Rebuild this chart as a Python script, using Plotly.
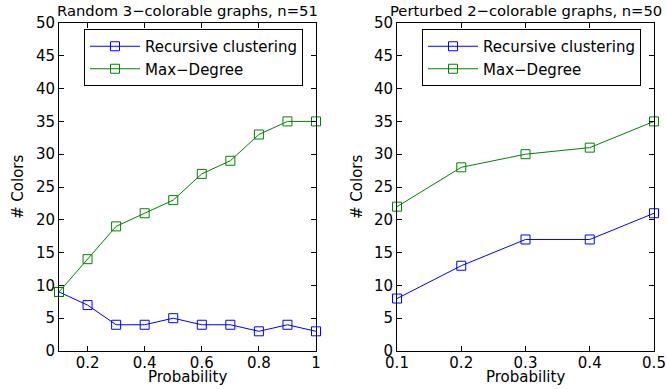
import plotly.graph_objects as go

# Left panel data
x_left = [0.1, 0.2, 0.3, 0.4, 0.5, 0.6, 0.7, 0.8, 0.9, 1.0]
rec_left = [9, 7, 4, 4, 5, 4, 4, 3, 4, 3]
maxdeg_left = [9, 14, 19, 21, 23, 27, 29, 33, 35, 35]

# Right panel data
x_right = [0.1, 0.2, 0.3, 0.4, 0.5]
rec_right = [8, 13, 17, 17, 21]
maxdeg_right = [22, 28, 30, 31, 35]

title_left = "Random 3\u2212colorable graphs, n=51"
title_right = "Perturbed 2\u2212colorable graphs, n=50"
names = ["Recursive clustering", "Max\u2212Degree"]
BLUE = "#0000ff"
GREEN = "#008000"
FONT = "DejaVu Sans, Liberation Sans, sans-serif"

W, H = 667, 389
def px(x): return x / W
def py(y): return (H - y) / H

fig = go.Figure()
for xs, ys, col, nm, xa, ya, lg in [
    (x_left, rec_left, BLUE, names[0], "x", "y", "legend"),
    (x_left, maxdeg_left, GREEN, names[1], "x", "y", "legend"),
    (x_right, rec_right, BLUE, names[0], "x2", "y2", "legend2"),
    (x_right, maxdeg_right, GREEN, names[1], "x2", "y2", "legend2"),
]:
    fig.add_trace(go.Scatter(
        x=xs, y=ys, mode="lines+markers", name=nm,
        line=dict(color=col, width=1),
        marker=dict(symbol="square-open", size=9, color=col, line=dict(width=1, color=col)),
        xaxis=xa, yaxis=ya, legend=lg, cliponaxis=False))

axis_common = dict(showline=True, linecolor="black", linewidth=1, mirror="ticks",
                   ticks="inside", ticklen=5, tickcolor="black", showgrid=False,
                   zeroline=False, automargin=False,
                   tickfont=dict(family=FONT, size=15, color="black"))

fig.update_layout(
    width=W, height=H, margin=dict(l=0, r=0, t=0, b=0),
    paper_bgcolor="white", plot_bgcolor="white",
    font=dict(family=FONT, color="black"),
    xaxis=dict(domain=[px(59), px(316)], range=[0.1, 1.0], tickvals=[0.2, 0.4, 0.6, 0.8, 1.0],
               ticktext=["0.2", "0.4", "0.6", "0.8", "1"], anchor="y",
               ticklabelstandoff=-2, **axis_common),
    yaxis=dict(domain=[py(351), py(23)], range=[0, 50], tickvals=list(range(0, 51, 5)),
               anchor="x", **axis_common),
    xaxis2=dict(domain=[px(397), px(654)], range=[0.1, 0.5], tickvals=[0.1, 0.2, 0.3, 0.4, 0.5],
                anchor="y2", ticklabelstandoff=-2, **axis_common),
    yaxis2=dict(domain=[py(351), py(23)], range=[0, 50], tickvals=list(range(0, 51, 5)),
                anchor="x2", **axis_common),
    legend=dict(x=px(84), y=py(29), xanchor="left", yanchor="top", bgcolor="white",
                bordercolor="black", borderwidth=1, font=dict(family=FONT, size=15),
                tracegroupgap=0, itemwidth=50),
    legend2=dict(x=px(422), y=py(29), xanchor="left", yanchor="top", bgcolor="white",
                 bordercolor="black", borderwidth=1, font=dict(family=FONT, size=15),
                 tracegroupgap=0, itemwidth=50),
    showlegend=True,
)

ann = []
for cx, t in [((59 + 316) / 2, title_left), ((397 + 654) / 2, title_right)]:
    ann.append(dict(text=t, x=px(cx), y=py(11), xref="paper", yref="paper",
                    showarrow=False, xanchor="center", yanchor="middle",
                    font=dict(family=FONT, size=14.75, color="black")))
    ann.append(dict(text="Probability", x=px(cx), y=py(377), xref="paper", yref="paper",
                    showarrow=False, xanchor="center", yanchor="middle",
                    font=dict(family=FONT, size=15, color="black")))
for cx in [18, 357]:
    ann.append(dict(text="# Colors", x=px(cx), y=py(187), xref="paper", yref="paper",
                    showarrow=False, xanchor="center", yanchor="middle", textangle=-90,
                    font=dict(family=FONT, size=15, color="black")))
fig.update_layout(annotations=ann)

fig.write_html("out.html", config={"displayModeBar": False},
               post_script="document.body.style.margin='0';document.body.style.overflow='hidden';")
